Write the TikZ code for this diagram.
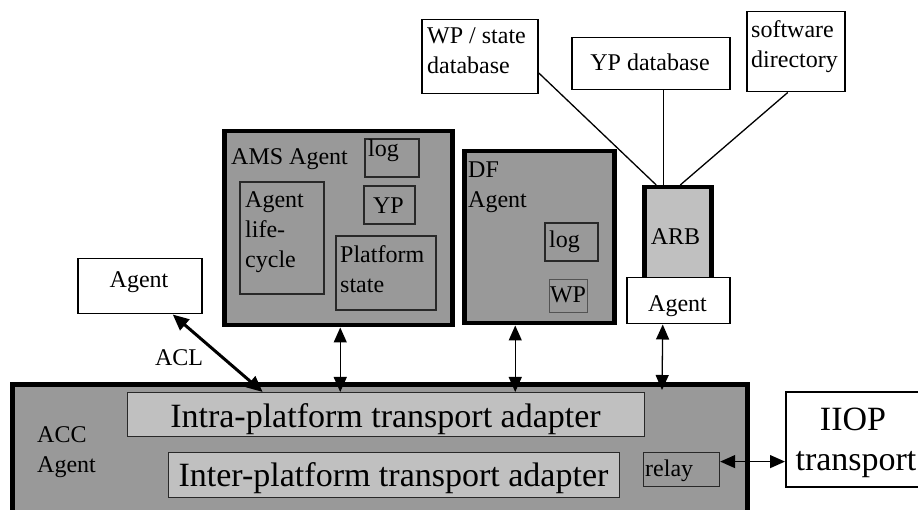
\documentclass[tikz,border=0pt]{standalone}
\usepackage{fontspec}
\setmainfont{Liberation Serif}
\usetikzlibrary{arrows.meta}
\definecolor{dk}{RGB}{153,153,153}
\definecolor{lt}{RGB}{192,192,192}
\definecolor{edge}{RGB}{40,40,40}
\begin{document}
\begin{tikzpicture}[x=1pt,y=-1pt,
  every node/.style={font=\fontsize{24}{30}\selectfont},
  box/.style={draw, line width=1.5pt, inner sep=0pt, anchor=north west, fill=white},
  inbox/.style={draw=edge, line width=1.6pt, inner sep=0pt, anchor=north west},
  thickbox/.style={draw, line width=4.5pt, inner sep=0pt, anchor=north west, fill=dk},
  lightbar/.style={draw=edge, line width=1.3pt, inner sep=0pt, anchor=north west, fill=lt},
  txt/.style={inner sep=0pt, align=left, anchor=base west},
  ctxt/.style={inner sep=0pt, align=center, anchor=base},
  bigtxt/.style={inner sep=0pt, anchor=base, font=\fontsize{34}{34}\selectfont},
  conn/.style={line width=1.3pt},
  biarrow/.style={line width=1.3pt, {Triangle[length=15pt,width=13pt]}-{Triangle[length=15pt,width=13pt]}},
  acl/.style={line width=3pt, {Triangle[length=16pt,width=14pt]}-{Triangle[length=16pt,width=14pt]}}
]
\useasboundingbox (0,0) rectangle (918,510);

% top databases (multi-line texts are placed by the baseline of their last line)
\node[box, minimum width=116pt, minimum height=74pt] (wps) at (421,19) {};
\node[txt] (wpst) at (427,74) {WP / state\\database};
\node[box, minimum width=158pt, minimum height=52pt] (ypdb) at (571,37) {};
\node[ctxt] (ypdbt) at (650,71) {YP database};
\node[box, minimum width=98pt, minimum height=80pt] (swdir) at (746,11) {};
\node[txt] (swdirt) at (751,68) {software\\directory};

% AMS agent
\node[thickbox, minimum width=228pt, minimum height=194pt] (ams) at (222,129) {};
\node[txt] (amst) at (231,165) {AMS Agent};
\node[inbox, minimum width=54pt, minimum height=38pt] (amslog) at (364,138) {};
\node[txt] (amslogt) at (368,157) {log};
\node[inbox, minimum width=51pt, minimum height=38pt] (amsyp) at (363,185) {};
\node[ctxt] (amsypt) at (388.5,214) {YP};
\node[inbox, minimum width=84pt, minimum height=112pt] (life) at (239,181) {};
\node[txt] (lifet) at (245,268) {Agent\\life-\\cycle};
\node[inbox, minimum width=100pt, minimum height=74pt] (pst) at (335,235) {};
\node[txt] (pstt) at (340,293) {Platform\\state};

% DF agent
\node[thickbox, minimum width=150pt, minimum height=172pt] (df) at (462,149) {};
\node[txt] (dft) at (468,208) {DF\\Agent};
\node[inbox, minimum width=53pt, minimum height=38pt] (dflog) at (544,222) {};
\node[txt] (dflogt) at (549,248) {log};
\node[draw=edge!80, line width=1pt, inner sep=0pt, anchor=north west, minimum width=38pt, minimum height=33pt] (dfwp) at (549,279) {};
\node[ctxt] (dfwpt) at (568,303) {WP};

% ARB and its agent
\node[thickbox, fill=lt, minimum width=67pt, minimum height=92pt] (arb) at (642,185) {};
\node[ctxt] (arbt) at (675.5,245) {ARB};
\node[box, minimum width=103pt, minimum height=46pt] (ragent) at (626,277) {};
\node[ctxt] (ragentt) at (677.5,312) {Agent};

% left agent
\node[box, minimum width=124pt, minimum height=55pt] (lagent) at (77,258) {};
\node[ctxt] (lagentt) at (139,288) {Agent};

% ACC agent
\node[thickbox, minimum width=735pt, minimum height=140pt] (acc) at (10,382) {};
\node[txt] (acct) at (37,472) {ACC\\Agent};
\node[lightbar, minimum width=517pt, minimum height=44pt] (intra) at (127,392) {};
\node[bigtxt] (intrat) at (385.5,427) {Intra-platform transport adapter};
\node[lightbar, minimum width=451pt, minimum height=45pt] (inter) at (168,452) {};
\node[bigtxt] (intert) at (393.5,486) {Inter-platform transport adapter};
\node[draw=edge, line width=1.2pt, inner sep=0pt, anchor=north west, fill=dk, minimum width=76pt, minimum height=34pt] (relay) at (643,452) {};
\node[txt] (relayt) at (645,476) {relay};

% IIOP transport
\node[box, minimum width=140pt, minimum height=95pt] (iiop) at (785,391) {};
\node[bigtxt] (iiopt1) at (853,430) {IIOP};
\node[bigtxt] (iiopt2) at (856,470) {transport};

% connectors to databases
\draw[conn] ([yshift=-16pt]wps.east) -- ([xshift=-21.5pt]arb.north);
\draw[conn] ([xshift=13pt]ypdb.south) -- ([xshift=13pt]ypdb.south |- arb.north);
\draw[conn] ([xshift=-8pt]swdir.south) -- ([xshift=2.5pt]arb.north);

% arrows to ACC
\draw[acl] ([xshift=33pt]lagent.south) -- ([xshift=-123.5pt]intra.north);
\node[ctxt] (aclt) at (179,366) {ACL};
\draw[biarrow] ([xshift=2pt]ams.south) -- ([xshift=2pt]ams.south |- intra.north);
\draw[biarrow] ([xshift=-24pt]df.south) -- ([xshift=-24pt]df.south |- intra.north);
\coordinate (ragentin) at (662,390);
\draw[biarrow] ([xshift=-15.5pt]ragent.south) -- (ragentin);
\draw[biarrow] ([yshift=8pt]relay.east) -- ([yshift=8pt]relay.east -| iiop.west);
\end{tikzpicture}
\end{document}
